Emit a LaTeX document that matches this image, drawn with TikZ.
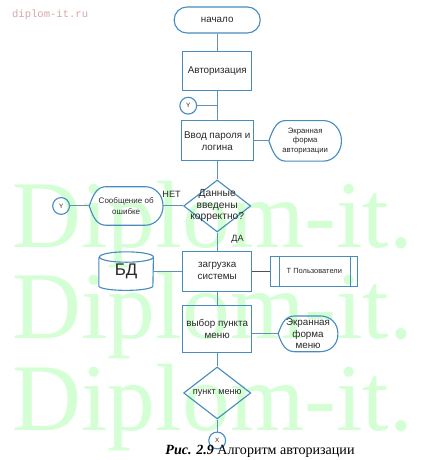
\documentclass[tikz,border=0pt]{standalone}
\usepackage{fontspec}
\setmainfont{Liberation Sans}
\newfontfamily\capfont{Liberation Serif}
\newfontfamily\sitefont{Liberation Mono}
\usetikzlibrary{positioning,shapes.geometric,calc,backgrounds}
\definecolor{flowblue}{RGB}{70,140,190}
\definecolor{linkblue}{RGB}{95,145,185}
\definecolor{darkline}{RGB}{80,80,80}
\definecolor{markgreen}{RGB}{212,255,212}
\definecolor{sitepink}{RGB}{215,165,165}
\definecolor{textgrey}{RGB}{40,40,40}

\begin{document}
\begin{tikzpicture}[
    font=\fontsize{7}{8.4}\selectfont,
    text=textgrey,
    node distance=0.45cm and 0.45cm,
    terminal/.style={
        draw=flowblue,
        line width=0.8pt,
        rounded corners=0.32cm,
        minimum width=2.15cm,
        minimum height=0.65cm,
        align=center
    },
    process/.style={
        draw=flowblue,
        line width=0.8pt,
        minimum width=1.72cm,
        minimum height=0.98cm,
        align=center,
        inner sep=2pt
    },
    decision/.style={
        diamond,
        draw=flowblue,
        line width=0.8pt,
        minimum width=1.68cm,
        minimum height=1.3cm,
        inner sep=0pt
    },
    scrform/.style={
        minimum width=1.8cm,
        minimum height=1cm,
        align=center,
        inner sep=1pt,
        font=\fontsize{5.5}{6.8}\selectfont
    },
    storage/.style={
        minimum width=1.35cm,
        minimum height=0.95cm,
        font=\fontsize{12}{14}\selectfont
    },
    predef/.style={
        draw=flowblue,
        line width=0.8pt,
        minimum width=2.18cm,
        minimum height=0.75cm,
        font=\fontsize{5.3}{6}\selectfont
    },
    joint/.style={
        circle,
        draw=flowblue,
        line width=0.8pt,
        minimum size=0.42cm,
        inner sep=0pt,
        font=\fontsize{4.5}{5}\selectfont
    },
    shape line/.style={draw=flowblue, line width=0.8pt},
    link/.style={draw=linkblue, line width=0.7pt},
    lbl/.style={font=\fontsize{6.5}{7}\selectfont, inner sep=0pt},
    watermark/.style={text=markgreen, inner sep=0pt, font=\capfont\fontsize{68}{68}\selectfont}
]
    \useasboundingbox (0,0) rectangle (10.5,-11.5);

    % 1. Start and authorisation
    \node[terminal] (start) at (5.43,-0.5) {начало};
    \node[process, below=0.43cm of start] (auth) {Авторизация};
    \node[process, below=0.73cm of auth, minimum height=1cm] (input) {Ввод пароля и\\логина};
    \coordinate (j1) at ($(auth.south)!0.5!(input.north)$);
    \node[joint, left=0.5cm of j1] (yin) {Y};
    \node[scrform, right=0.38cm of input] (scrauth) {Экранная\\форма\\авторизации};

    % 2. Check of the entered data
    \node[decision, below=0.45cm of input,
          label={[font=\fontsize{7.3}{8.2}\selectfont, align=center]center:Данные\\введены\\корректно?}] (check) {};
    \node[scrform, left=0.5cm of check, minimum width=1.83cm, minimum height=0.95cm,
          font=\fontsize{5.7}{7.4}\selectfont] (errmsg) {Сообщение об\\ошибке};
    \node[joint, left=0.48cm of errmsg] (yout) {Y};
    \node[lbl, anchor=south east] (no) at ([xshift=-0.05cm,yshift=0.2cm]check.west) {НЕТ};
    \node[lbl, anchor=west] (yes) at ([xshift=0.35cm,yshift=-0.18cm]check.south) {ДА};

    % 3. Loading of the system
    \node[process, below=0.45cm of check, minimum height=1cm] (load) {загрузка\\системы};
    \node[storage, left=0.72cm of load] (db) {БД};
    \node[predef, right=0.45cm of load] (users) {Т Пользователи};

    % 4. Menu
    \node[process, below=0.33cm of load, minimum height=1.18cm] (menu) {выбор пункта\\меню};
    \node[scrform, right=0.65cm of menu, yshift=-0.12cm, minimum width=1.48cm, minimum height=0.88cm,
          font=\fontsize{7}{8}\selectfont] (scrmenu) {Экранная\\форма\\меню};
    \node[decision, below=0.33cm of menu,
          label={[font=\fontsize{6.5}{7.5}\selectfont]center:пункт меню}] (choice) {};
    \node[joint, below=0.3cm of choice] (xout) {X};

    % Display shapes
    \foreach \n in {scrauth,errmsg,scrmenu}
        \draw[shape line] (\n.west) .. controls +(0.1,0.3) and +(-0.22,0) .. ([xshift=0.42cm]\n.north west)
            -- ([xshift=-0.45cm]\n.north east)
            .. controls +(0.25,0) and +(0,0.28) .. (\n.east)
            .. controls +(0,-0.28) and +(0.25,0) .. ([xshift=-0.45cm]\n.south east)
            -- ([xshift=0.42cm]\n.south west)
            .. controls +(-0.22,0) and +(0.1,-0.3) .. (\n.west);

    % Database cylinder
    \draw[shape line] ([yshift=-0.13cm]db.north west) -- ([yshift=0.11cm]db.south west)
        arc[start angle=180, end angle=360, x radius=0.675cm, y radius=0.11cm]
        -- ([yshift=-0.13cm]db.north east)
        arc[start angle=0, end angle=180, x radius=0.675cm, y radius=0.13cm]
        arc[start angle=180, end angle=360, x radius=0.675cm, y radius=0.13cm];

    % Predefined process bars
    \draw[shape line] ([xshift=0.24cm]users.north west) -- ([xshift=0.24cm]users.south west);
    \draw[shape line] ([xshift=-0.2cm]users.north east) -- ([xshift=-0.2cm]users.south east);

    % Connections
    \draw[link] (start) -- (auth);
    \draw[link] (auth) -- (input);
    \draw[link] (yin) -- (j1);
    \draw[link] (input) -- (scrauth.west);
    \draw[link] (input) -- (check);
    \draw[link] (check) -- (errmsg.east);
    \draw[link] (yout) -- (errmsg.west);
    \draw[link] (check) -- (load);
    \draw[link] (db.east) -- (load);
    \draw[darkline, line width=0.7pt] (load) -- (users);
    \draw[link] (load) -- (menu);
    \draw[link] (scrmenu.west) -- (scrmenu.west -| menu.east);
    \draw[link] (menu) -- (choice);
    \draw[link] (choice) -- (xout);

    % Caption and watermarks
    \node[font=\capfont\fontsize{10}{12}\selectfont, text=black] (caption) at (6.5,-11.28)
        {\textbf{\textit{Рис. 2.9}} Алгоритм авторизации};
    \node[anchor=west, text=sitepink, font=\sitefont\fontsize{7.5}{9}\selectfont] (site) at (0.18,-0.38) {diplom-it.ru};
    \begin{scope}[on background layer]
        \node[watermark, anchor=base west] (wm1) at (0.3,-6.18) {Diplom-it.};
        \node[watermark, anchor=base west] (wm2) at (0.3,-8.45) {Diplom-it.};
        \node[watermark, anchor=base west] (wm3) at (0.3,-10.75) {Diplom-it.};
    \end{scope}

\end{tikzpicture}
\end{document}
